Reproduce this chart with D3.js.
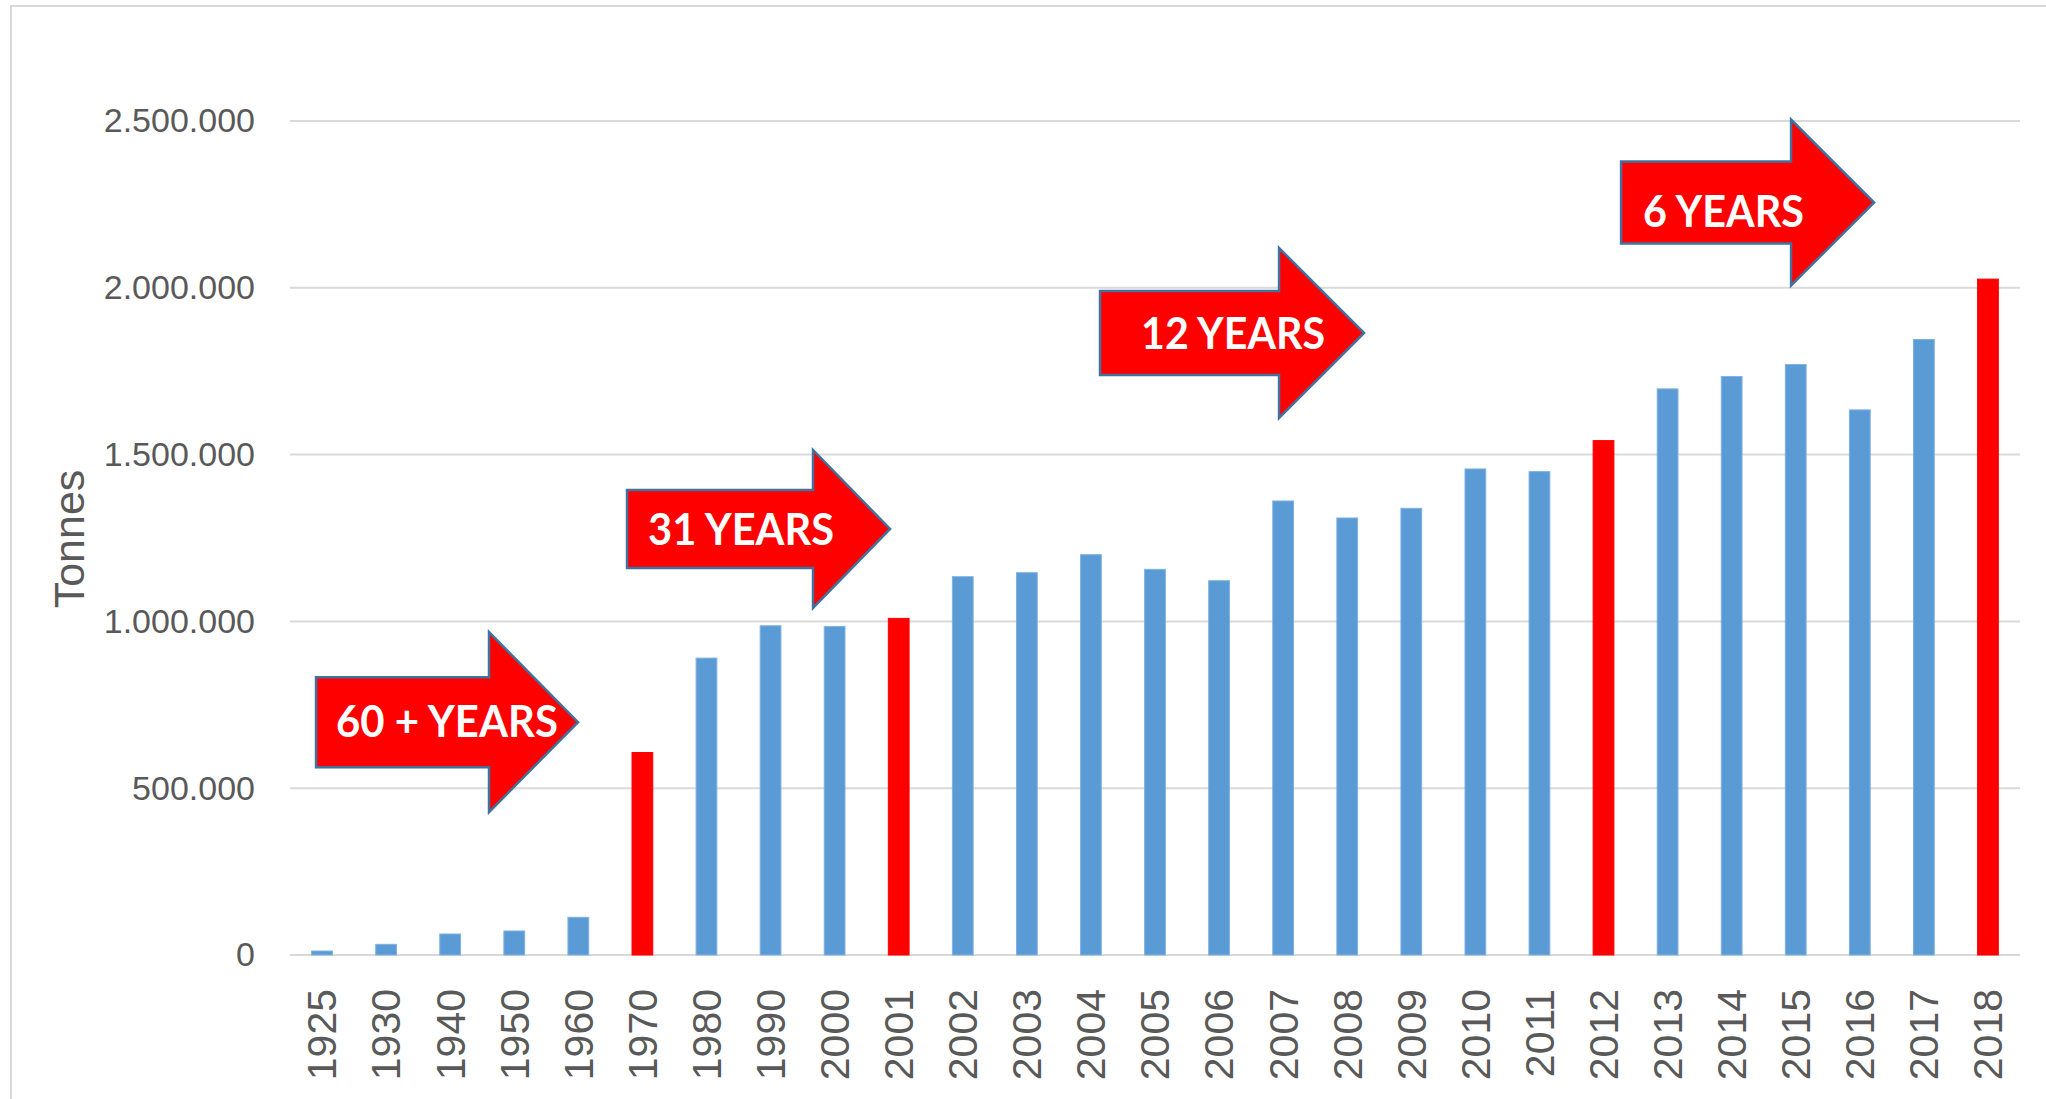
<!DOCTYPE html>
<html>
<head>
<meta charset="utf-8">
<script src="https://cdn.jsdelivr.net/npm/d3@7"></script>
<style>
  body { margin: 0; background: #fff; }
  svg { display: block; }
</style>
</head>
<body>
<svg id="canvas" width="2046" height="1099"></svg>
<script>
// data
const years = ['1925','1930','1940','1950','1960','1970','1980','1990','2000','2001','2002','2003','2004','2005','2006','2007','2008','2009','2010','2011','2012','2013','2014','2015','2016','2017','2018']
const tonnes = [12000, 32000, 63000, 72000, 113000, 607000, 890000, 987000, 985000, 1009000, 1134000, 1146000, 1200000, 1156000, 1122000, 1361000, 1310000, 1339000, 1457000, 1449000, 1542000, 1697000, 1734000, 1770000, 1634000, 1845000, 2026000]
const highlighted = ['1970', '2001', '2012', '2018']
const yTicks = [0, 500000, 1000000, 1500000, 2000000, 2500000]
const arrowLabels = ['60 + YEARS', '31 YEARS', '12 YEARS', '6 YEARS']

const width = 2046, height = 1099
const margin = {left: 290, right: 26, top: 121, bottom: 144}

const svg = d3.select('#canvas')

// chart frame
svg.append('rect')
    .attr('x', 11).attr('y', 6)
    .attr('width', width + 50).attr('height', height + 50)
    .attr('fill', 'none')
    .attr('stroke', '#d9d9d9')
    .attr('stroke-width', 2)

const x = d3.scaleBand()
    .domain(years)
    .range([margin.left, width - margin.right])
    .paddingInner(0.676)
    .paddingOuter(0.338)

const y = d3.scaleLinear()
    .domain([0, 2500000])
    .range([height - margin.bottom, margin.top])

const fmt = d3.formatLocale({decimal: ',', thousands: '.', grouping: [3], currency: ['', '']}).format(',')

// gridlines
svg.append('g')
    .selectAll('line')
    .data(yTicks)
    .enter()
    .append('line')
    .attr('x1', margin.left)
    .attr('x2', width - margin.right)
    .attr('y1', d => y(d))
    .attr('y2', d => y(d))
    .attr('stroke', '#d9d9d9')
    .attr('stroke-width', 2)

// y axis
const yAxis = svg.append('g')
    .attr('transform', `translate(${margin.left},0)`)
    .call(d3.axisLeft(y).tickValues(yTicks).tickFormat(fmt).tickSize(0).tickPadding(35))
yAxis.select('.domain').remove()
yAxis.selectAll('text')
    .attr('fill', '#595959')
    .style('font-family', '"Liberation Sans", Arial, sans-serif')
    .style('font-size', '34px')

// x axis
const xAxis = svg.append('g')
    .attr('transform', `translate(0,${y(0)})`)
    .call(d3.axisBottom(x).tickSize(0))
xAxis.select('.domain').remove()
xAxis.selectAll('text')
    .attr('transform', 'rotate(-90)')
    .attr('x', -34)
    .attr('y', 0)
    .attr('dy', '0.35em')
    .style('text-anchor', 'end')
    .attr('fill', '#595959')
    .style('font-family', '"Liberation Sans", Arial, sans-serif')
    .style('font-size', '41px')

// axis title
svg.append('text')
    .attr('transform', `translate(84,539) rotate(-90)`)
    .attr('text-anchor', 'middle')
    .attr('fill', '#595959')
    .style('font-family', '"Liberation Sans", Arial, sans-serif')
    .style('font-size', '43px')
    .text('Tonnes')

// bars
const rows = years.map((yr, i) => ({year: yr, value: tonnes[i]}))
svg.append('g')
    .selectAll('rect')
    .data(rows)
    .enter()
    .append('rect')
    .attr('x', d => x(d.year))
    .attr('y', d => y(d.value))
    .attr('width', x.bandwidth())
    .attr('height', d => y(0) - y(d.value))
    .attr('fill', d => highlighted.includes(d.year) ? '#ff0000' : '#5b9bd5')
    .attr('stroke', d => highlighted.includes(d.year) ? '#ff0000' : '#7fb1e0')
    .attr('stroke-width', 1)

// annotation arrows, placed in category-index / value space
const step = x.step()
const xAt = i => margin.left + step * (i + 0.5)
const arrows = [
    {from: -0.094, neck: 2.606, to: 3.995, at: 698000, head: 90, body: 45, dx: 20, dy: 15, len: 222},
    {from: 4.76, neck: 7.663, to: 8.865, at: 1277000, head: 79, body: 39, dx: 21, dy: 16, len: 186},
    {from: 12.142, neck: 14.936, to: 16.263, at: 1864500, head: 85, body: 42, dx: 41, dy: 16, len: 184},
    {from: 20.274, neck: 22.927, to: 24.223, at: 2255700, head: 83, body: 41, dx: 22, dy: 25, len: 161}
]
arrows.forEach((a, k) => {
    const x0 = xAt(a.from), xn = xAt(a.neck), x1 = xAt(a.to), yc = y(a.at)
    const pts = [
        [x0, yc - a.body], [xn, yc - a.body], [xn, yc - a.head], [x1, yc],
        [xn, yc + a.head], [xn, yc + a.body], [x0, yc + a.body]
    ]
    svg.append('path')
        .attr('d', d3.line()(pts) + 'Z')
        .attr('fill', '#ff0000')
        .attr('stroke', '#41719c')
        .attr('stroke-width', 2.5)
        .attr('stroke-linejoin', 'miter')
    svg.append('text')
        .attr('x', x0 + a.dx)
        .attr('y', yc + a.dy)
        .attr('fill', '#fff')
        .attr('textLength', a.len)
        .attr('lengthAdjust', 'spacingAndGlyphs')
        .style('font-family', 'Lato, "Open Sans", sans-serif')
        .style('font-weight', 'bold')
        .style('font-size', '43px')
        .text(arrowLabels[k])
})
</script>
</body>
</html>
